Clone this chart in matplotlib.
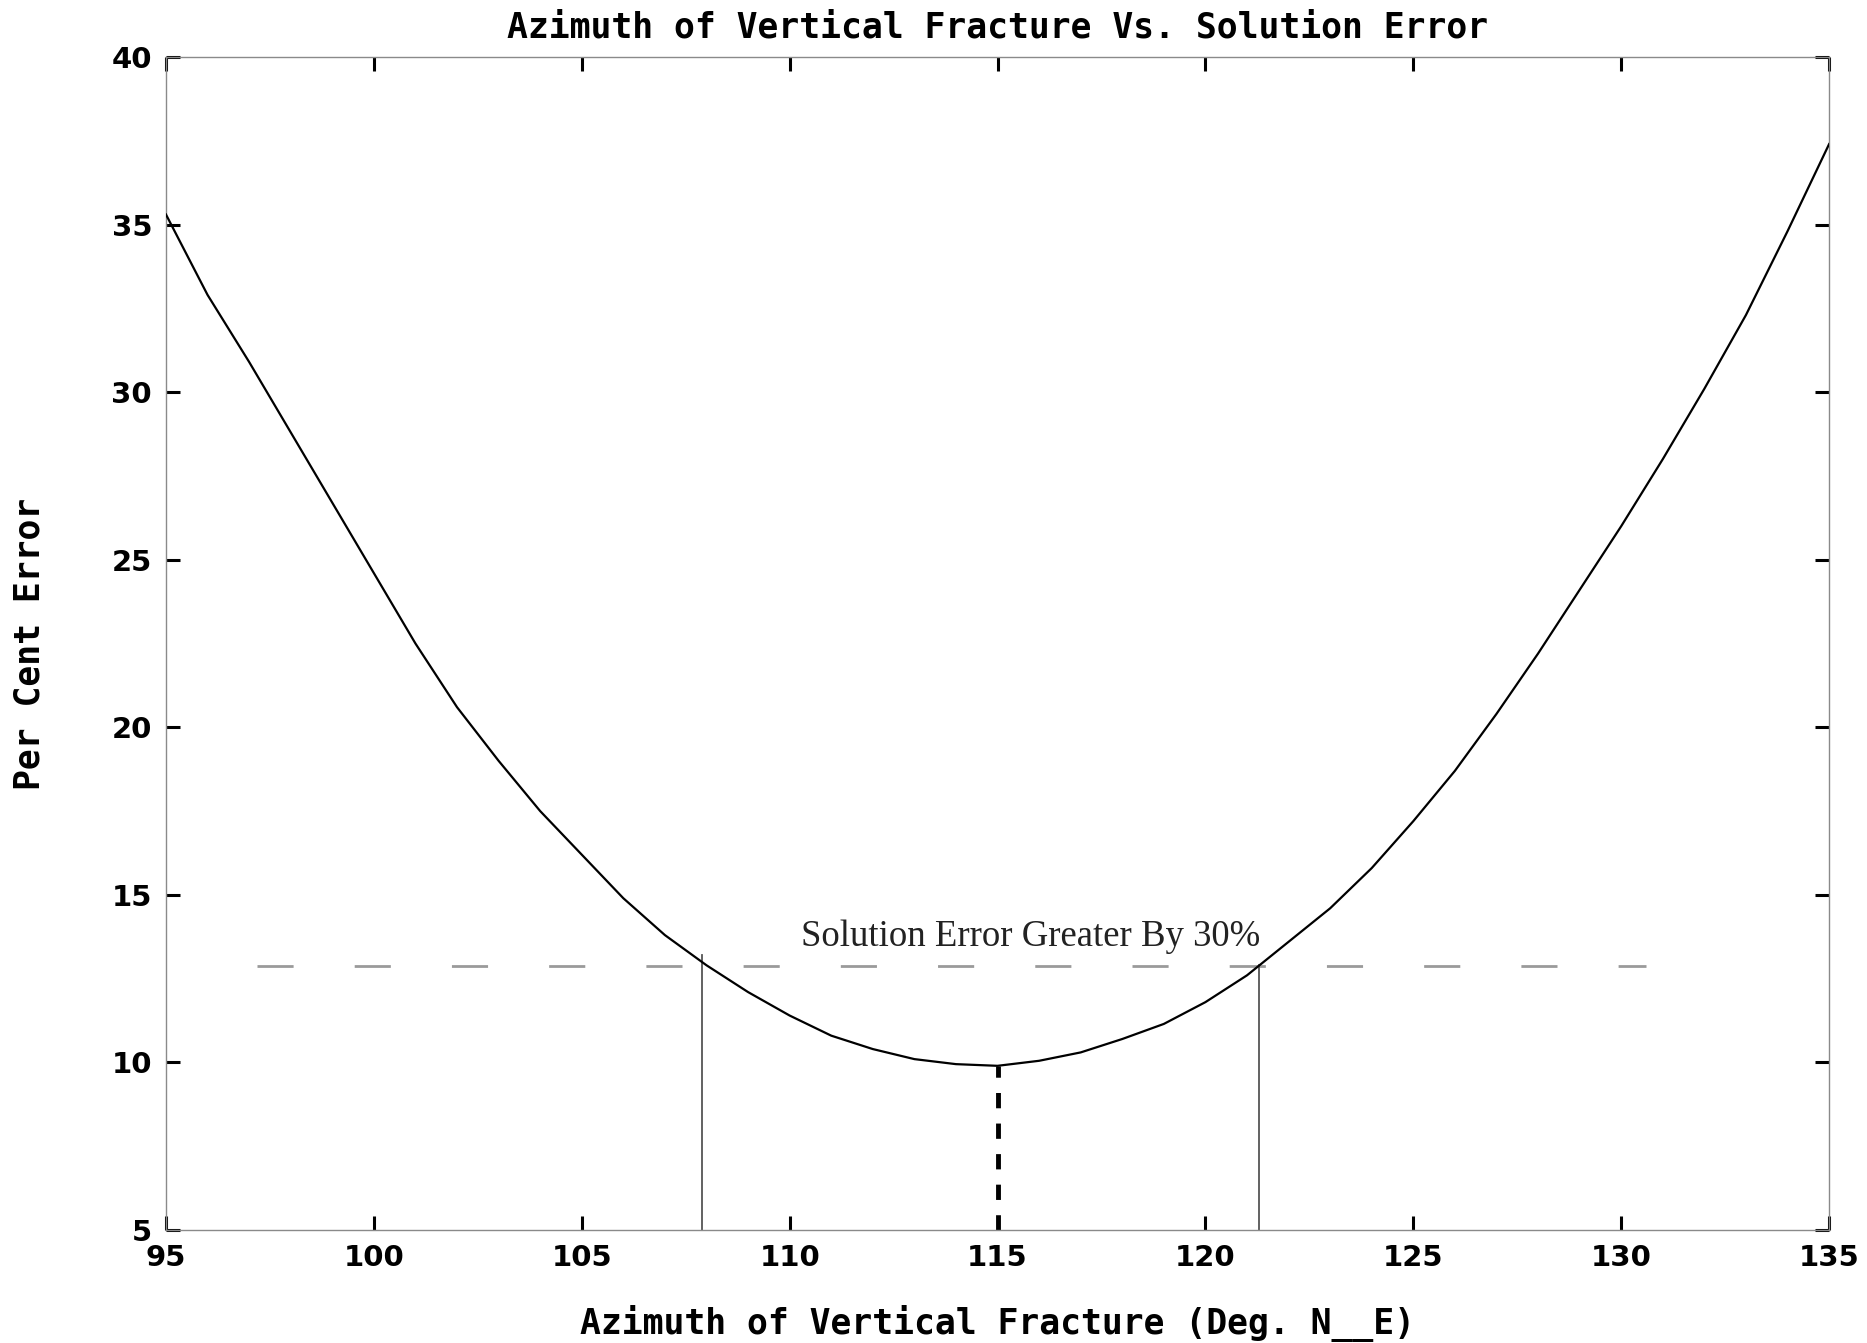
import matplotlib
matplotlib.use("Agg")
import matplotlib.pyplot as plt

# azimuth (deg) vs per cent error
azimuth = [95, 96, 97, 98, 99, 100, 101, 102, 103, 104, 105, 106, 107, 108, 109,
           110, 111, 112, 113, 114, 115, 116, 117, 118, 119, 120, 121, 122, 123,
           124, 125, 126, 127, 128, 129, 130, 131, 132, 133, 134, 135]
error = [35.3, 32.9, 30.9, 28.8, 26.7, 24.6, 22.5, 20.6, 19.0, 17.5, 16.2, 14.9,
         13.8, 12.9, 12.1, 11.4, 10.8, 10.4, 10.1, 9.95, 9.9, 10.05, 10.3, 10.7,
         11.15, 11.8, 12.6, 13.6, 14.6, 15.8, 17.2, 18.7, 20.4, 22.2, 24.1, 26.0,
         28.0, 30.1, 32.3, 34.8, 37.4]

min_azimuth = 115
min_error = 9.9
limit_error = 12.87           # 30% above the minimum
limit_left = 107.9
limit_right = 121.3
limit_span = (97.2, 130.6)

x_ticks = [95, 100, 105, 110, 115, 120, 125, 130, 135]
y_ticks = [5, 10, 15, 20, 25, 30, 35, 40]

plt.rcParams['lines.scale_dashes'] = False
label_font = dict(family='DejaVu Sans Mono', weight='bold', size=25)

fig = plt.figure(figsize=(18.67, 13.43), dpi=100)
ax = fig.add_axes([0.0889, 0.0841, 0.8908, 0.8735])

# curva principal
ax.plot(azimuth, error, color='black', lw=1.6, zorder=3)

# linha de referencia tracejada (erro 30% maior)
ax.plot(limit_span, [limit_error, limit_error], color='#9a9a9a', lw=2,
        dashes=(26, 44), zorder=2)
ax.text(115.8, 13.75, 'Solution Error Greater By 30%', family='Liberation Serif',
        fontsize=26.5, ha='center', va='center', color='#222222')

# linhas verticais nos limites e no minimo
ax.plot([limit_left, limit_left], [5, 13.2], color='#555555', lw=1.3, zorder=2)
ax.plot([limit_right, limit_right], [5, 12.9], color='#555555', lw=1.3, zorder=2)
ax.plot([min_azimuth, min_azimuth], [5, min_error], color='black', lw=3.5,
        dashes=(11, 11), zorder=2)

ax.set_xlim(95, 135)
ax.set_ylim(5, 40)
ax.set_xticks(x_ticks)
ax.set_yticks(y_ticks)
ax.tick_params(direction='in', length=10, width=2.2, top=True, right=True,
               labelsize=21, pad=10)
for lbl in ax.get_xticklabels() + ax.get_yticklabels():
    lbl.set_fontweight('bold')

for sp in ax.spines.values():
    sp.set_color('#8a8a8a')
    sp.set_linewidth(1.0)

ax.set_title('Azimuth of Vertical Fracture Vs. Solution Error', pad=14, **label_font)
ax.set_xlabel('Azimuth of Vertical Fracture (Deg. N__E)', labelpad=24, **label_font)
ax.set_ylabel('Per Cent Error', labelpad=47, **label_font)

fig.savefig('out.png', dpi=100)
